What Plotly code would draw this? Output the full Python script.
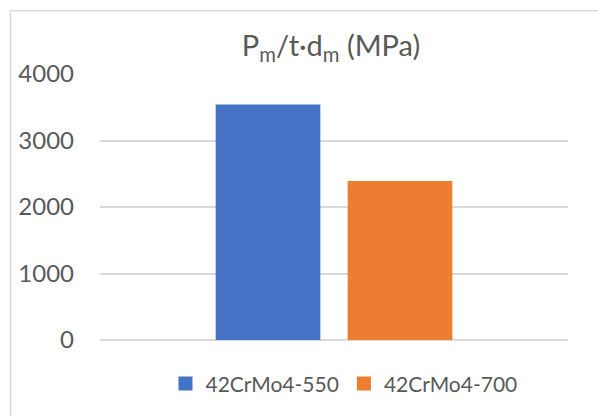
import plotly.graph_objects as go

# Data
series_names = ["42CrMo4-550", "42CrMo4-700"]
series_values = [3540, 2390]
series_colors = ["#4472C4", "#ED7D31"]
category = [""]
y_ticks = [0, 1000, 2000, 3000, 4000]

TEXT = "#595959"
GRID = "#D9D9D9"
FONT = "Lato"

fig = go.Figure()
for name, val, col in zip(series_names, series_values, series_colors):
    fig.add_trace(go.Bar(
        x=category, y=[val], name=name,
        marker=dict(color=col, line=dict(width=0)),
        showlegend=False,
    ))
    # square legend swatch
    fig.add_trace(go.Scatter(
        x=[None], y=[None], mode="markers", name=name,
        marker=dict(symbol="square", size=14, color=col),
        showlegend=True,
    ))

W, H = 598, 416
L, R, T, B = 100, 30, 73.7, 76
pw, ph = W - L - R, H - T - B

def px_to_paper(x, y):
    return (x - L) / pw, (H - B - y) / ph

x0, y0 = px_to_paper(10.5, 10.5)
x1, y1 = px_to_paper(620, 440)

fig.update_layout(
    width=W, height=H,
    margin=dict(l=L, r=R, t=T, b=B, pad=0),
    paper_bgcolor="white", plot_bgcolor="white",
    font=dict(family=FONT, color=TEXT),
    barmode="group", bargap=0.436, bargroupgap=0.207,
    title=dict(
        text="P<sub>m</sub>/t·d<sub>m</sub> (MPa)",
        x=331 / W, y=1 - 46 / H, xanchor="center", yanchor="middle",
        font=dict(size=29, color=TEXT, family=FONT),
    ),
    legend=dict(
        orientation="h", x=(344 - L) / pw, y=(H - B - 384) / ph,
        xanchor="center", yanchor="middle",
        font=dict(size=21, color=TEXT, family=FONT),
        itemwidth=30, tracegroupgap=0,
    ),
    xaxis=dict(showticklabels=False, showgrid=False, zeroline=False, showline=False, ticks=""),
    yaxis=dict(
        range=[0, 4000], tickvals=y_ticks, showgrid=True, gridcolor=GRID, gridwidth=1.5,
        zeroline=True, zerolinecolor=GRID, zerolinewidth=1.5, showline=False,
        tickfont=dict(size=24, color=TEXT, family=FONT), ticks="", ticklabelstandoff=25,
    ),
    shapes=[dict(type="rect", xref="paper", yref="paper", x0=x0, y0=y0, x1=x1, y1=y1,
                 line=dict(color=GRID, width=1.5), fillcolor="rgba(0,0,0,0)", layer="below")],
)

fig.write_html("out.html")
